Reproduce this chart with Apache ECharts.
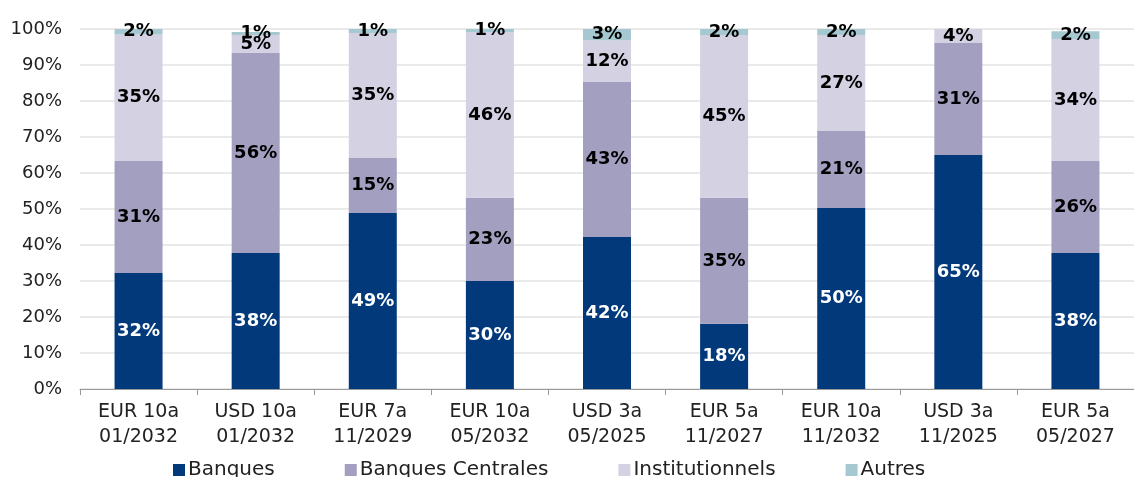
<!DOCTYPE html>
<html>
<head>
<meta charset="utf-8">
<script src="https://cdn.jsdelivr.net/npm/echarts@6/dist/echarts.min.js"></script>
<style>html,body{margin:0;padding:0;background:#fff}#c{width:1134px;height:477px}</style>
</head>
<body>
<div id="c"></div>
<script>
const categories = ["EUR 10a\n01/2032","USD 10a\n01/2032","EUR 7a\n11/2029","EUR 10a\n05/2032","USD 3a\n05/2025","EUR 5a\n11/2027","EUR 10a\n11/2032","USD 3a\n11/2025","EUR 5a\n05/2027"];
const banques = [32.2, 37.8, 48.9, 30.0, 42.2, 18.1, 50.3, 65.0, 37.8];
const banquesCentrales = [31.1, 55.5, 15.3, 23.1, 43.1, 35.0, 21.4, 31.1, 25.5];
const institutionnels = [35.2, 5.0, 34.7, 46.1, 11.6, 45.2, 26.6, 4.2, 33.9];
const autres = [1.5, 0.9, 1.1, 0.8, 3.1, 1.7, 1.7, 0, 2.2];
const yTicks = [0,10,20,30,40,50,60,70,80,90,100];

const FONT = "DejaVu Sans";
function mk(name, data, color, labelColor) {
  return {
    name, type: 'bar', stack: 'all', data, barWidth: 48,
    itemStyle: { color },
    label: {
      show: true, position: 'inside', color: labelColor,
      fontFamily: FONT, fontWeight: 'bold', fontSize: 18,
      formatter: p => p.value > 0 ? Math.round(p.value) + '%' : ''
    }
  };
}
const chart = echarts.init(document.getElementById('c'));
chart.setOption({
  animation: false,
  textStyle: { fontFamily: FONT },
  grid: { left: 80, right: -10, top: 29, bottom: 88 },
  legend: {
    top: 455, left: 168, itemWidth: 12, itemHeight: 12, itemGap: 70,
    icon: 'rect',
    textStyle: { fontFamily: FONT, fontSize: 20, color: '#222', padding: [0,0,0,-2] },
    data: ['Banques','Banques Centrales','Institutionnels','Autres']
  },
  xAxis: {
    type: 'category', data: categories,
    axisLine: { lineStyle: { color: '#999' } },
    axisTick: { show: true, length: 6, lineStyle: { color: '#999' } },
    axisLabel: { fontFamily: FONT, fontSize: 19, color: '#222', lineHeight: 25, margin: 11 }
  },
  yAxis: {
    type: 'value', min: 0, max: 100, interval: 10,
    axisLine: { show: false }, axisTick: { show: false },
    splitLine: { lineStyle: { color: '#e3e3e3', width: 1.5 } },
    axisLabel: { fontFamily: FONT, fontSize: 18, color: '#222', margin: 18,
      formatter: v => yTicks.includes(v) ? v + '%' : '' }
  },
  series: [
    mk('Banques', banques, '#02397B', '#fff'),
    mk('Banques Centrales', banquesCentrales, '#A39FC1', '#000'),
    mk('Institutionnels', institutionnels, '#D3D1E2', '#000'),
    mk('Autres', autres, '#A6C8D0', '#000')
  ]
});
</script>
</body>
</html>
